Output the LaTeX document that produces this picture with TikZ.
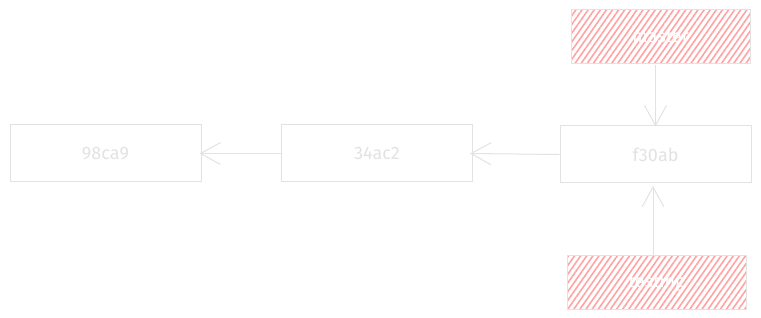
\documentclass[tikz,border=0pt]{standalone}
\usepackage{fontspec}
\setmainfont{Fira Sans}
\usetikzlibrary{arrows.meta,patterns.meta}
\definecolor{inkgray}{HTML}{E2E2E2}
\definecolor{hatchred}{HTML}{FFA3A3}
\begin{document}
\begin{tikzpicture}[x=1pt,y=-1pt,
  commit/.style={draw=inkgray,line width=1pt,minimum width=191pt,minimum height=57pt,
    inner sep=0pt,text=inkgray,font=\fontsize{18}{18}\selectfont},
  branch/.style={draw=inkgray,line width=1pt,minimum width=179pt,minimum height=54pt,
    inner sep=0pt,text=white,font=\fontsize{18}{18}\selectfont,
    pattern={Lines[angle=55,distance=5pt,line width=1.6pt]},pattern color=hatchred},
  link/.style={draw=inkgray,line width=1pt,-{Straight Barb[length=20pt,width=22pt,line width=1pt]}}]
  \useasboundingbox (0,0) rectangle (761,318);
  \node[commit] (c1) at (105.5,153.5) {98ca9};
  \node[commit] (c2) at (377,153.5) {34ac2};
  \node[commit] (c3) at (655.5,154.5) {f30ab};
  \node[branch] (master) at (660.5,37) {master};
  \node[branch] (testing) at (656.5,282) {testing};
  \draw[link] (c2.west) -- ([xshift=-2pt]c1.east);
  \draw[link] (c3.west) -- ([xshift=-3pt]c2.east);
  \draw[link] (master.south -| c3) -- ([yshift=-1pt]c3.north);
  \draw[link] (testing.north -| 653,0) -- (653,186);
\end{tikzpicture}
\end{document}
